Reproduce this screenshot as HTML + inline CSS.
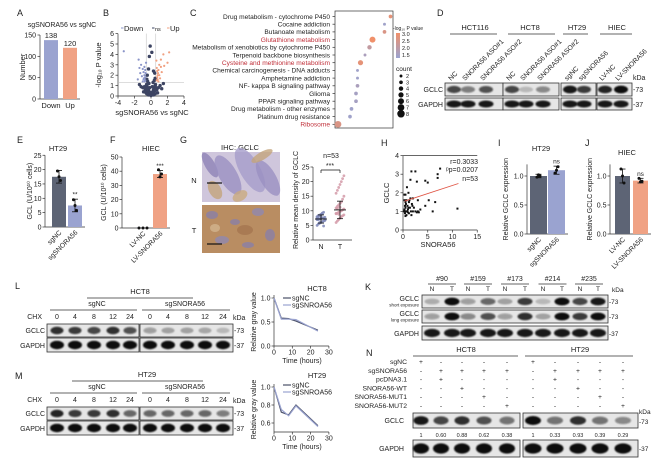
<!DOCTYPE html>
<html><head><meta charset="utf-8">
<style>
html,body{margin:0;padding:0;background:#fff;}
svg{display:block;font-family:"Liberation Sans",Arial,sans-serif;}
text{fill:#222;}
</style></head>
<body>
<svg id="fig" width="669" height="469" viewBox="0 0 669 469" xmlns="http://www.w3.org/2000/svg">
<defs>
<filter id="blur" x="-20%" y="-50%" width="140%" height="200%"><feGaussianBlur stdDeviation="0.7"/></filter>
<linearGradient id="cbar" x1="0" y1="1" x2="0" y2="0"><stop offset="0" stop-color="#9aa3d0"/><stop offset="1" stop-color="#f0906a"/></linearGradient>
</defs>
</svg>
<script>
// ---------- data ----------
const aCats=['Down','Up'];
const aVals=[138,120];
const aTicks=[0,50,100,150];
const bDown=[[-3.3,4.3],[-1.5,3.5],[-1.2,3.0],[-1.0,2.6],[-0.9,2.3],[-0.8,2.0],[-0.7,1.8],[-1.1,1.9],[-0.9,1.6],[-0.7,1.5],[-1.3,2.2],[-0.8,2.8],[-0.65,2.2],[-0.75,1.4],[-1.6,1.6],[-0.6,3.2],[-1.0,1.4],[-0.85,1.7],[-0.7,2.5],[-1.4,2.7]];
const bUp=[[0.7,1.5],[0.8,2.0],[0.9,2.5],[1.0,3.0],[1.2,3.5],[1.5,4.0],[2.2,4.2],[0.75,1.8],[0.85,2.2],[1.1,1.7],[0.7,2.7],[1.3,2.3],[0.9,1.4],[1.6,2.9],[2.0,3.2],[0.65,3.4],[1.0,2.0],[0.8,1.6],[0.75,2.4],[1.2,2.8]];
const bNs=[[-0.5,1.0],[-0.4,0.8],[-0.3,0.6],[-0.2,0.4],[-0.1,0.2],[0,0.05],[0.1,0.2],[0.2,0.4],[0.3,0.6],[0.4,0.8],[0.5,1.0],[-0.55,1.1],[0.55,1.1],[-0.5,1.6],[0.5,1.7],[-0.45,2.0],[0.45,2.2],[-0.3,2.6],[0.3,2.4],[-0.1,4.8],[0.1,4.2],[-0.2,3.8],[-0.8,0.9],[-1.0,0.8],[-1.2,0.9],[-0.7,0.6],[-0.9,0.4],[-0.6,0.3],[0.7,0.6],[0.9,0.8],[1.1,1.0],[0.8,0.3],[1.3,0.7],[-1.4,1.1],[1.5,1.2],[-0.35,0.4],[0.35,0.4],[-0.25,1.2],[0.25,1.3],[-0.4,1.4],[0.4,1.5],[0,0.3],[-0.15,0.8],[0.15,0.9],[-0.6,0.7],[0.6,0.8],[-0.45,0.5],[0.45,0.5],[-0.5,0.2],[0.5,0.2],[-0.3,0.1],[0.3,0.1]];
const bXTicks=[-4,-2,0,2,4];
const bYTicks=[0,1,2,3,4,5,6];
const cTerms=['Drug metabolism - cytochrome P450','Cocaine addiction','Butanoate metabolism','Glutathione metabolism','Metabolism of xenobiotics by cytochrome P450','Terpenoid backbone biosynthesis','Cysteine and methionine metabolism','Chemical carcinogenesis - DNA adducts','Amphetamine addiction','NF- kappa B signaling pathway','Glioma','PPAR signaling pathway','Drug metabolism - other enzymes','Platinum drug resistance','Ribosome'];
const cRich=[0.52,0.48,0.48,0.40,0.38,0.35,0.32,0.30,0.30,0.30,0.29,0.29,0.26,0.25,0.17];
const cP=[2.8,1.6,2.6,3.0,2.2,1.8,2.8,1.6,1.6,1.8,1.7,1.7,1.6,1.6,2.6];
const cCount=[3,2,3,6,4,2,5,2,2,3,3,3,3,3,7];
const cHighlight=[3,6,14];
const cLegendCounts=[2,3,4,5,6,7,8];
const eCats=['sgNC','sgSNORA56'];
const eVals=[17.5,7.5];
const eErr=[2.2,2.2];
const ePts=[[19.5,17.5,16.2],[9.5,7.5,5.8]];
const eTicks=[0,5,10,15,20,25];
const fCats=['LV-NC','LV-SNORA56'];
const fVals=[0.2,38];
const fErr=[0,2.5];
const fPts=[[0,0,0],[41,36,38]];
const fTicks=[0,10,20,30,40,50];
const gN=[5,5.5,6,6,6.3,6.5,6.8,7,7,7.2,7.3,7.5,7.6,7.8,8,8.2,8.5,8.8,9,9.5,6.7,7.1,7.4,5.8,8.1,9.2,4.8,6.9,7.7,8.4];
const gT=[6,6.5,7,7.5,8,8.3,8.6,9,9.2,9.5,9.8,10,10.3,10.6,11,11.5,12,12.5,13,14,15,16,17,18,19,20,21,22,9.1,10.8,8.8,11.2];
const gMeans=[7.2,10.3];
const gSD=[1.4,3.0];
const gTicks=[0,5,10,15,20,25];
const hPts=[[0.3,1.9],[0.5,1.9],[0.3,1.6],[0.5,1.5],[0.6,1.4],[0.4,1.3],[0.5,1.2],[0.3,1.1],[0.6,1.0],[0.4,0.9],[0.7,0.8],[0.5,0.75],[0.8,1.0],[1.0,1.1],[1.1,1.2],[1.2,0.9],[1.3,1.6],[1.5,1.7],[1.6,1.0],[1.8,1.4],[1.9,1.3],[2.0,1.0],[1.5,2.7],[1.7,3.15],[2.5,3.15],[2.8,2.6],[2.5,1.0],[2.8,0.95],[3.0,1.0],[3.5,1.1],[3.2,0.95],[4.5,2.65],[5.0,2.55],[4.5,1.3],[5.2,1.6],[6.0,1.0],[6.5,1.5],[7.0,2.8],[7.0,3.0],[7.5,3.3],[11.0,1.15],[0.8,2.3],[1.2,1.5],[0.9,1.3],[2.2,1.2],[1.0,0.95],[1.4,1.2],[0.2,1.0],[0.7,1.6],[1.1,2.0],[2.0,1.7],[1.7,0.8],[3.0,1.6]];
const hFit=[[0.3,1.55],[11.2,2.5]];
const hXTicks=[0,5,10,15];
const hYTicks=[0,1,2,3,4];
const iVals=[1.0,1.1];
const iErr=[0.03,0.07];
const iPts=[[0.98,1.02,1.0],[1.05,1.1,1.16]];
const jVals=[1.0,0.92];
const jErr=[0.12,0.04];
const jPts=[[1.12,1.0,0.88],[0.96,0.9,0.91]];
const ijTicks=[0.0,0.5,1.0];
const chxTimes=[0,4,8,12,24];
const lNC=[1.0,0.58,0.57,0.52,0.33];
const lSG=[1.0,0.56,0.56,0.55,0.31];
const mNC=[1.0,0.72,0.69,0.80,0.57];
const mSG=[1.0,0.75,0.68,0.79,0.56];
const dGCLC=[0.75,0.5,0.7,0.75,0.2,0.45,0.95,0.8,0.9,1.0];
const lGCLC=[0.85,0.8,0.75,0.85,0.7,0.35,0.3,0.3,0.28,0.2];
const mGCLC=[0.9,0.8,0.8,0.85,0.6,0.6,0.6,0.6,0.6,0.5];
const kShort=[0.25,1.0,0.35,0.6,0.3,0.8,0.2,1.0,0.75,0.95];
const kLong=[0.35,1.0,0.45,0.7,0.35,0.85,0.3,1.0,0.8,1.0];
const nLabels=['1','0.60','0.88','0.62','0.38','1','0.33','0.93','0.39','0.29'];
const nGCLC=[0.95,0.75,0.85,0.7,0.55,1.0,0.55,0.85,0.55,0.45];
const nRows=['sgNC','sgSNORA56','pcDNA3.1','SNORA56-WT','SNORA56-MUT1','SNORA56-MUT2'];
const nSigns=[['+','-','-','-','-'],['-','+','+','+','+'],['-','+','-','-','-'],['-','-','+','-','-'],['-','-','-','+','-'],['-','-','-','-','+']];

// ---------- helpers ----------
const NS='http://www.w3.org/2000/svg';
const svg=document.getElementById('fig');
function mk(tag,attrs,parent){const e=document.createElementNS(NS,tag);for(const k in attrs)e.setAttribute(k,attrs[k]);(parent||svg).appendChild(e);return e;}
function tx(x,y,s,size,anchor,parent,extra){const e=mk('text',Object.assign({x:x,y:y,'font-size':size||7,'text-anchor':anchor||'middle'},extra||{}),parent);e.textContent=s;return e;}
function ln(x1,y1,x2,y2,parent,col,w){return mk('line',{x1:x1,y1:y1,x2:x2,y2:y2,stroke:col||'#333',"stroke-width":w||0.7},parent);}
function grp(name){const g=mk('g',{});return g;}
function plabel(x,y,s){const t=tx(x,y,s,9,'start',null);

}

// Panel letters
[['A',17,16],['B',103,16],['C',190,16],['D',437,16],['E',17,143],['F',110,143],['G',180,143],['H',381,146],['I',498,146],['J',585,146],['K',365,290],['L',15,289],['M',15,379],['N',366,356]].forEach(p=>plabel(p[1],p[2],p[0]));

// ---------- Panel A ----------
{const g=grp('panel-a-bar-chart');
const yA=v=>99-v*64/150;
tx(62,27,'sgSNORA56 vs sgNC',7,'middle',g);
ln(40,yA(150),40,99,g);ln(40,99,80,99,g);
aTicks.forEach(t=>{ln(37.5,yA(t),40,yA(t),g);const l=tx(36,yA(t)+2.5,String(t),7,'end',g);
});
const yt=tx(25,67,'Number',7.5,'middle',g,{transform:'rotate(-90 25 67)'});

const cols=['#9aa3d0','#f0a284'];
aVals.forEach((v,i)=>{const x=44+i*19;const r=mk('rect',{x:x,y:yA(v),width:14,height:99-yA(v),fill:cols[i]},g);

const vl=tx(x+7,yA(v)-2,String(v),7.5,'middle',g);

const cl=tx(x+7,108,aCats[i],7.5,'middle',g);
});}

// ---------- Panel B volcano ----------
{const g=grp('panel-b-volcano');
const xB=v=>151+v*8.25, yB=v=>96-v*10.4;
ln(118,yB(6),118,96,g);ln(118,96,184,96,g);
bYTicks.forEach(t=>{ln(115.5,yB(t),118,yB(t),g);const l=tx(114,yB(t)+2.5,String(t),7,'end',g);
});
bXTicks.forEach(t=>{ln(xB(t),96,xB(t),98.5,g);const l=tx(xB(t),105,String(t),7,'middle',g);
});
ln(xB(-0.58),yB(6),xB(-0.58),96,g,'#bbb',0.5);ln(xB(0.58),yB(6),xB(0.58),96,g,'#bbb',0.5);ln(118,yB(1.3),184,yB(1.3),g,'#bbb',0.5);
bNs.forEach(p=>{const c=mk('circle',{cx:xB(p[0]),cy:yB(p[1]),r:1.7,fill:'#3d4462'},g);
});
bDown.forEach(p=>{const c=mk('circle',{cx:xB(p[0]),cy:yB(p[1]),r:1.1,fill:'#8a94c8'},g);
});
bUp.forEach(p=>{const c=mk('circle',{cx:xB(p[0]),cy:yB(p[1]),r:1.1,fill:'#f0a080'},g);
});
[['Down',121,'#8a94c8'],['ns',152,'#3d4462'],['Up',167,'#f0a080']].forEach(l=>{ln(l[1],28,l[1]+2.5,28,g,l[2],1);const t=tx(l[1]+3,31,l[0],l[0]=='ns'?5.5:7.5,'start',g);
});
const yt=tx(101,65,'-log\u2081\u2080 P value',7.5,'middle',g,{transform:'rotate(-90 101 65)'});

const xt=tx(152,115,'sgSNORA56 vs sgNC',7.5,'middle',g);
}

// ---------- Panel C dot plot ----------
{const g=grp('panel-c-kegg-dotplot');
const yC=i=>16.5+i*7.7, xC=v=>335+(v-0.15)*150;
mk('rect',{x:335,y:11,width:58,height:117,fill:'none',stroke:'#333','stroke-width':0.7},g);
function col(p){const f=Math.max(0,Math.min(1,(p-1.5)/1.5));const a=[154,163,208],b=[240,144,106];return 'rgb('+a.map((c,k)=>Math.round(c+(b[k]-c)*f)).join(',')+')';}
cTerms.forEach((t,i)=>{const red=cHighlight.includes(i);const l=tx(330,yC(i)+2.3,t,6.6,'end',g,{style:'fill:'+(red?'#c0303a':'#222')});

ln(332.5,yC(i),335,yC(i),g);
const c=mk('circle',{cx:xC(cRich[i]),cy:yC(i),r:0.7+cCount[i]*0.38,fill:col(cP[i])},g);
});
const lt=tx(393,30,'-log\u2081\u2080 P value',5,'start',g);

mk('rect',{x:396,y:33,width:4,height:25,fill:'url(#cbar)'},g);
['3.0','2.5','2.0','1.5'].forEach((s,i)=>{const l=tx(402,36+i*7,s,5.5,'start',g);
});
const ct=tx(396,71,'count',6.5,'start',g);

cLegendCounts.forEach((c,i)=>{const d=mk('circle',{cx:401,cy:76+i*6.3,r:0.7+c*0.38,fill:'#111'},g);

const l=tx(406,78+i*6.3,String(c),5.5,'start',g);
});}

// ---------- blot helper ----------
function blot(g,x,y,w,h,xs,ints,bw,dark){mk('rect',{x:x,y:y,width:w,height:h,fill:dark?'#d6d6d6':'#e6e6e6',stroke:'#333','stroke-width':0.8},g);
xs.forEach((cx,i)=>{const b=mk('ellipse',{cx:cx,cy:y+h/2,rx:bw,ry:Math.max(1.3,h*0.2+ints[i]*h*0.1),fill:'#111','fill-opacity':ints[i],filter:'url(#blur)'},g);
});}

// ---------- Panel D ----------
{const g=grp('panel-d-western-blot');
[['HCT116',475,450,497],['HCT8',530,508,555],['HT29',577,563,588],['HIEC',617,600,632]].forEach(h=>{const t=tx(h[1],30,h[0],7.5,'middle',g);

ln(h[2],34,h[3],34,g);});
const dx=[454,468,486,512,526,543,570,584,605,621];
const dl=['NC','SNORA56 ASO#1','SNORA56 ASO#2','NC','SNORA56 ASO#1','SNORA56 ASO#2','sgNC','sgSNORA56','LV-NC','LV-SNORA56'];
dl.forEach((s,i)=>{const t=tx(dx[i]-3,81,s,6.8,'start',g,{transform:'rotate(-45 '+(dx[i]-3)+' 81)'});
});
const segs=[[445,58,[0,1,2]],[503,56,[3,4,5]],[561,35,[6,7]],[597,35,[8,9]]];
segs.forEach(s=>{blot(g,s[0],83,s[1],13,s[2].map(k=>dx[k]),s[2].map(k=>dGCLC[k]),7);blot(g,s[0],98,s[1],12,s[2].map(k=>dx[k]),s[2].map(()=>0.95),7.5);});
tx(443,92,'GCLC',7,'end',g);
tx(443,107,'GAPDH',7,'end',g);
tx(633,80,'kDa',7,'start',g);
tx(633,92,'-73',7,'start',g);
tx(633,107,'-37',7,'start',g);}

// ---------- bar-with-points helper ----------
function barPanel(name,axisX,y0,scale,ticks,vals,errs,pts,cats,cols,barX,barW,title,titleX,ylab,ylabX,titleY,sigs,tickFmt,topV){
const g=grp(name);const Y=v=>y0-v*scale;
const tt=tx(titleX,titleY,title,7.5,'middle',g);

const top=Y(topV);
ln(axisX,top,axisX,y0,g);ln(axisX,y0,barX[1]+barW+3,y0,g);
ticks.forEach(t=>{ln(axisX-2.5,Y(t),axisX,Y(t),g);const l=tx(axisX-3.5,Y(t)+2.5,tickFmt?tickFmt(t):String(t),7,'end',g);
});
vals.forEach((v,i)=>{const r=mk('rect',{x:barX[i],y:Y(v),width:barW,height:y0-Y(v),fill:cols[i]},g);

const cx=barX[i]+barW/2;
if(errs[i]>0){ln(cx,Y(v+errs[i]),cx,Y(v-errs[i]),g,'#111',0.8);ln(cx-3,Y(v+errs[i]),cx+3,Y(v+errs[i]),g,'#111',0.8);ln(cx-3,Y(v-errs[i]),cx+3,Y(v-errs[i]),g,'#111',0.8);}
pts[i].forEach((p,k)=>{const d=mk('circle',{cx:cx+(k-1)*(errs[i]>0?1.5:4),cy:Y(p),r:1.5,fill:'#111'},g);
});
const cl=tx(cx+3,y0+6,cats[i],6.8,'end',g,{transform:'rotate(-45 '+(cx+3)+' '+(y0+6)+')'});

if(sigs[i]){const s=tx(cx,Y(v+errs[i])-2.5,sigs[i],6.5,'middle',g);
}});
const cy=(y0+top)/2;
const yl=tx(ylabX,cy,ylab,7,'middle',g,{transform:'rotate(-90 '+ylabX+' '+cy+')'});

return g;}
barPanel('panel-e-gcl-activity',45,227,2.87,eTicks,eVals,eErr,ePts,eCats,['#5d6475','#9aa3d0'],[52,68],14,'HT29',58,'GCL (U/10\u00b9\u2070 cells)',32,151,['','**'],null,25);
barPanel('panel-f-gcl-activity',122,228,1.42,fTicks,fVals,fErr,fPts,fCats,['#5d6475','#f0a284'],[136,153],14,'HIEC',151,'GCL (U/10\u00b9\u2070 cells)',106,151,['','***'],null,50);
barPanel('panel-i-relative-gclc',527,234,58,ijTicks,iVals,iErr,iPts,['sgNC','sgSNORA56'],['#5d6475','#9aa3d0'],[530,548],17,'HT29',541,'Relative GCLC expression',508,151,['','ns'],t=>t.toFixed(1),1.2);
barPanel('panel-j-relative-gclc',610,234,58,ijTicks,jVals,jErr,jPts,['LV-NC','LV-SNORA56'],['#5d6475','#f0a284'],[615,633],15,'HIEC',627,'Relative GCLC expression',592,155,['','ns'],t=>t.toFixed(1),1.2);

// ---------- Panel G ----------
{const g=grp('panel-g-ihc');
tx(240,150,'IHC: GCLC',7.5,'middle',g);
const nImg=mk('rect',{x:202,y:152,width:78,height:50,fill:'#cfc6dc'},g);

[[210,165,5,14,'#8d82b6'],[228,175,9,22,'#9a90c2'],[250,170,10,25,'#a59ccb'],[268,178,8,20,'#9a90c2'],[215,190,6,10,'#c3a47c'],[240,196,8,5,'#c9aa80'],[262,156,12,4,'#c3a47c']].forEach(e=>mk('ellipse',{cx:e[0],cy:e[1],rx:e[2],ry:e[3],fill:e[4],'fill-opacity':0.8,transform:'rotate(-30 '+e[0]+' '+e[1]+')'},g));
const tImg=mk('rect',{x:202,y:205,width:78,height:48,fill:'#b98d62'},g);

[[212,215,6,4,'#8a80a8'],[235,222,5,3,'#8a80a8'],[258,212,6,4,'#9088b0'],[270,235,5,6,'#8a80a8'],[222,240,7,4,'#9088b0'],[248,245,6,3,'#8a80a8'],[245,230,8,5,'#a57550'],[215,228,5,4,'#d2b48e']].forEach(e=>mk('ellipse',{cx:e[0],cy:e[1],rx:e[2],ry:e[3],fill:e[4],'fill-opacity':0.8},g));
ln(207,183,222,183,g,'#111',1.2);ln(207,244,222,244,g,'#111',1.2);
tx(194,183,'N',7.5,'middle',g);
tx(194,233,'T',7.5,'middle',g);
const Y=v=>240-v*2.92;
ln(313,Y(25),313,240,g);ln(313,240,352,240,g);
gTicks.forEach(t=>{ln(310.5,Y(t),313,Y(t),g);const l=tx(309.5,Y(t)+2.5,String(t),7,'end',g);
});
const gx=[321,340];
gN.forEach((v,i)=>{const d=mk('circle',{cx:gx[0]+((i%7)-3)*1.3,cy:Y(v),r:1.4,fill:'#7f88b8','fill-opacity':0.85},g);
});
gT.forEach((v,i)=>{const d=mk('circle',{cx:gx[1]+((i%7)-3)*1.3,cy:Y(v),r:1.4,fill:'#d49aa8','fill-opacity':0.85},g);
});
gMeans.forEach((m,i)=>{ln(gx[i]-6,Y(m),gx[i]+6,Y(m),g,'#111',0.9);ln(gx[i],Y(m+gSD[i]),gx[i],Y(m-gSD[i]),g,'#111',0.8);ln(gx[i]-3,Y(m+gSD[i]),gx[i]+3,Y(m+gSD[i]),g,'#111',0.8);ln(gx[i]-3,Y(m-gSD[i]),gx[i]+3,Y(m-gSD[i]),g,'#111',0.8);});
tx(gx[0],249,'N',7,'middle',g);
tx(gx[1],249,'T',7,'middle',g);
ln(gx[0],170,gx[1],170,g,'#111',0.7);ln(gx[0],170,gx[0],173,g,'#111',0.7);ln(gx[1],170,gx[1],173,g,'#111',0.7);
tx(330,168,'***',7,'middle',g);
tx(331,158,'n=53',7,'middle',g);
const yl=tx(298,200,'Relative mean density of GCLC',7,'middle',g,{transform:'rotate(-90 298 200)'});
}

// ---------- Panel H ----------
{const g=grp('panel-h-correlation');
const X=v=>403+v*4.95, Y=v=>230-v*18.6;
ln(403,Y(4),403,230,g);ln(403,230,X(15),230,g);ln(403,Y(4),X(15),Y(4),g);
hXTicks.forEach(t=>{ln(X(t),230,X(t),232.5,g);const l=tx(X(t),239,String(t),7,'middle',g);
});
hYTicks.forEach(t=>{ln(400.5,Y(t),403,Y(t),g);const l=tx(399,Y(t)+2.5,String(t),7,'end',g);
});
hPts.forEach(p=>{const d=mk('rect',{x:X(p[0])-1,y:Y(p[1])-1,width:2,height:2,fill:'#111'},g);
});
const f=ln(X(hFit[0][0]),Y(hFit[0][1]),X(hFit[1][0]),Y(hFit[1][1]),g,'#e05545',0.9);

tx(478,164,'r=0.3033',7,'end',g);
tx(478,172,'\u1d56p=0.0207',7,'end',g);
tx(478,181,'n=53',7,'end',g);
const yl=tx(389,193,'GCLC',7.5,'middle',g,{transform:'rotate(-90 389 193)'});

tx(438,247,'SNORA56',7.5,'middle',g);}

// ---------- Panel L / M blots ----------
const lx=[57,75,94,113,130,150,168,187,205,223];
function chxPanel(name,hdr,hdrX,hdrL,y,gclc){const g=grp(name);
tx(hdrX,y,hdr,7.5,'middle',g);
ln(hdrL[0],y+4,hdrL[1],y+4,g);
tx(97,y+12,'sgNC',7,'middle',g);
tx(185,y+12,'sgSNORA56',7,'middle',g);
ln(50,y+16,137,y+16,g);ln(142,y+16,230,y+16,g);
tx(42,y+25,'CHX',7,'end',g);
lx.forEach((x,i)=>{const t=tx(x,y+25,String(chxTimes[i%5]),7,'middle',g);
});
tx(233,y+26,'kDa',7,'start',g);
blot(g,47,y+30,92,13,lx.slice(0,5),gclc.slice(0,5),6.5);blot(g,140,y+30,93,13,lx.slice(5),gclc.slice(5),6.5);
blot(g,47,y+44,92,14,lx.slice(0,5),[1,1,1,1,1],7);blot(g,140,y+44,93,14,lx.slice(5),[1,1,1,1,1],7);
tx(45,y+39,'GCLC',7,'end',g);
tx(45,y+54,'GAPDH',7,'end',g);
tx(234,y+39,'-73',7,'start',g);
tx(234,y+54,'-37',7,'start',g);}
chxPanel('panel-l-chx-blot','HCT8',140,[87,193],294,lGCLC);
chxPanel('panel-m-chx-blot','HT29',147,[72,203],377,mGCLC);

// ---------- L / M line charts ----------
function lineChart(name,title,titleY,yTop,yBot,vTop,vBot,ticks,nc,sg,fmt){const g=grp(name);
const X=t=>274+t*1.83, Y=v=>yBot-(v-vBot)/(vTop-vBot)*(yBot-yTop);
tx(317,titleY,title,7.5,'middle',g);
ln(274,yTop-3,274,yBot,g);ln(274,yBot,X(30),yBot,g);
ticks.forEach(t=>{ln(271.5,Y(t),274,Y(t),g);const l=tx(270.5,Y(t)+2.5,fmt(t),7,'end',g);
});
[0,10,20,30].forEach(t=>{ln(X(t),yBot,X(t),yBot+2.5,g);const l=tx(X(t),yBot+8.5,String(t),7,'middle',g);
});
const p1=mk('polyline',{points:chxTimes.map((t,i)=>X(t)+','+Y(nc[i])).join(' '),fill:'none',stroke:'#4a5068','stroke-width':1.2},g);

const p2=mk('polyline',{points:chxTimes.map((t,i)=>X(t)+','+Y(sg[i])).join(' '),fill:'none',stroke:'#9aa3d0','stroke-width':1.2},g);

ln(283,titleY+7,291,titleY+7,g,'#4a5068',1.2);ln(283,titleY+14,291,titleY+14,g,'#9aa3d0',1.2);
tx(292,titleY+9.5,'sgNC',7,'start',g);
tx(292,titleY+16.5,'sgSNROA56',7,'start',g);
tx(302,yBot+17,'Time (hours)',7,'middle',g);
const cy=(yTop+yBot)/2;
const yl=tx(256,cy,'Relative gray value',7,'middle',g,{transform:'rotate(-90 256 '+cy+')'});
}
lineChart('panel-l-decay-chart','HCT8',291,298,346,1.0,0.0,[0.0,0.5,1.0],lNC,lSG,t=>t.toFixed(1));
lineChart('panel-m-decay-chart','HT29',378,387,432,1.0,0.5,[0.6,0.8,1.0],mNC,mSG,t=>t.toFixed(1));

// ---------- Panel K ----------
{const g=grp('panel-k-tissue-blot');
const kx=[432,452,468,488,505,525,543,562,580,598];
['#90','#159','#173','#214','#235'].forEach((s,i)=>{const cx=(kx[2*i]+kx[2*i+1])/2;const t=tx(cx,281,s,7,'middle',g);

ln(cx-14,284,cx+14,284,g);});
kx.forEach((x,i)=>{const t=tx(x,291,i%2?'T':'N',6.5,'middle',g);
});
tx(612,292,'kDa',6.5,'start',g);
blot(g,422,295,186,13,kx,kShort,7.5);blot(g,422,310,186,13,kx,kLong,7.5);blot(g,422,326,186,14,kx,kx.map(()=>0.95),8);
tx(419,301,'GCLC',7,'end',g);
tx(419,306.5,'short exposure',4.5,'end',g);
tx(419,316,'GCLC',7,'end',g);
tx(419,321.5,'long exposure',4.5,'end',g);
tx(419,336,'GAPDH',7,'end',g);
tx(609,304,'-73',6.5,'start',g);
tx(609,319,'-73',6.5,'start',g);
tx(609,336,'-37',6.5,'start',g);}

// ---------- Panel N ----------
{const g=grp('panel-n-rescue-blot');
const nx=[421,441,462,484,507,533,555,578,600,623];
tx(466,352,'HCT8',7.5,'middle',g);
tx(580,352,'HT29',7.5,'middle',g);
ln(413,356,518,356,g);ln(525,356,633,356,g);
nRows.forEach((r,ri)=>{const t=tx(407,364+ri*8.8,r,6.8,'end',g);

nx.forEach((x,ci)=>{const s=tx(x,364+ri*8.8,nSigns[ri][ci%5],6.8,'middle',g);
});});
blot(g,413,413,107,15,nx.slice(0,5),nGCLC.slice(0,5),7.5);blot(g,523,413,115,15,nx.slice(5),nGCLC.slice(5),8);
nLabels.forEach((s,i)=>{const t=tx(nx[i],437,s,5.5,'middle',g);
});
blot(g,413,440,107,17,nx.slice(0,5),[1,1,1,1,1],8);blot(g,523,440,115,17,nx.slice(5),[1,1,1,1,1],8.5);
tx(404,423,'GCLC',7,'end',g);
tx(404,451,'GAPDH',7,'end',g);
tx(639,414,'kDa',6.5,'start',g);
tx(639,424,'-73',6.5,'start',g);
tx(639,451,'-37',6.5,'start',g);}
</script>
</body></html>
